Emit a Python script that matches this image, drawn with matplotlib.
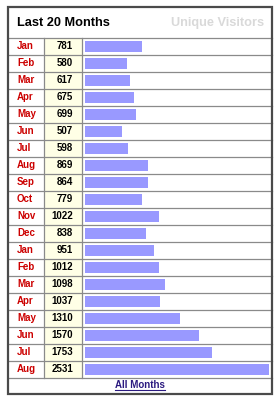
import matplotlib
matplotlib.use("Agg")
import matplotlib.pyplot as plt
import matplotlib.transforms as mtransforms
from matplotlib.patches import Rectangle

months = ["Jan", "Feb", "Mar", "Apr", "May", "Jun", "Jul", "Aug", "Sep", "Oct",
          "Nov", "Dec", "Jan", "Feb", "Mar", "Apr", "May", "Jun", "Jul", "Aug"]
visitors = [781, 580, 617, 675, 699, 507, 598, 869, 864, 779,
            1022, 838, 951, 1012, 1098, 1037, 1310, 1570, 1753, 2531]
title_left = "Last 20 Months"
title_right = "Unique Visitors"
footer = "All Months"

plt.rcParams['font.family'] = ['Liberation Sans', 'DejaVu Sans']

W, H = 278, 400
fig = plt.figure(figsize=(W / 100, H / 100), dpi=100)
fig.patch.set_facecolor("white")

# layout axes in pixel coordinates
lay = fig.add_axes([0, 0, 1, 1])
lay.set_xlim(0, W)
lay.set_ylim(H, 0)
lay.axis("off")

L, R, T, B = 8, 272, 7, 394
title_bot = 38
rows_bot = 378
c1, c2 = 44, 82
n = len(months)
rh = (rows_bot - title_bot) / n

# value column background
lay.add_patch(Rectangle((c1, title_bot), c2 - c1, rows_bot - title_bot,
                        facecolor="#ffffe6", edgecolor="none", zorder=0))
# horizontal lines
for i in range(n + 1):
    y = title_bot + i * rh
    lay.plot([L, R], [y, y], color="#8a8a8a", lw=0.9, zorder=2)
# vertical lines
for x in (c1, c2):
    lay.plot([x, x], [title_bot, rows_bot], color="#8a8a8a", lw=0.9, zorder=2)
# outer border
lay.add_patch(Rectangle((L, T), R - L, B - T, facecolor="none",
                        edgecolor="#4a4a4a", lw=1.6, zorder=3))

# title
lay.text(17, 23, title_left, fontsize=9.2, fontweight="bold", color="black",
         ha="left", va="center")
lay.text(264, 23, title_right, fontsize=9.2, fontweight="bold", color="#d9d9d9",
         ha="right", va="center")

# bars axes
bx0, bx1 = 85, 269
bax = fig.add_axes([bx0 / W, (H - rows_bot) / H, (bx1 - bx0) / W,
                    (rows_bot - title_bot) / H])
bax.set_xlim(0, max(visitors))
bax.set_ylim(n - 0.5, -0.5)
bax.axis("off")
bax.patch.set_alpha(0)
ypos = list(range(n))
bax.barh(ypos, visitors, height=0.7, color="#9999ff", edgecolor="none")

trans = mtransforms.blended_transform_factory(lay.transData, bax.transData)
for i, (m, v) in enumerate(zip(months, visitors)):
    bax.text(17, i, m, transform=trans, fontsize=7, fontweight="bold",
             color="#cc0000", ha="left", va="center")
    bax.text(73, i, f"{v}", transform=trans, fontsize=7, fontweight="bold",
             color="black", ha="right", va="center")

# footer link
ft = lay.text(140, 385.5, footer, fontsize=7, fontweight="bold",
              color="#2b1a80", ha="center", va="center")
fig.canvas.draw()
bb = ft.get_window_extent(fig.canvas.get_renderer())
inv = lay.transData.inverted()
(x0, y0), (x1, y1) = inv.transform([[bb.x0, bb.y0], [bb.x1, bb.y1]])
lay.plot([x0, x1], [y0 - 0.5, y0 - 0.5], color="#2b1a80", lw=0.8)

fig.savefig("out.png", dpi=100, facecolor="white")
